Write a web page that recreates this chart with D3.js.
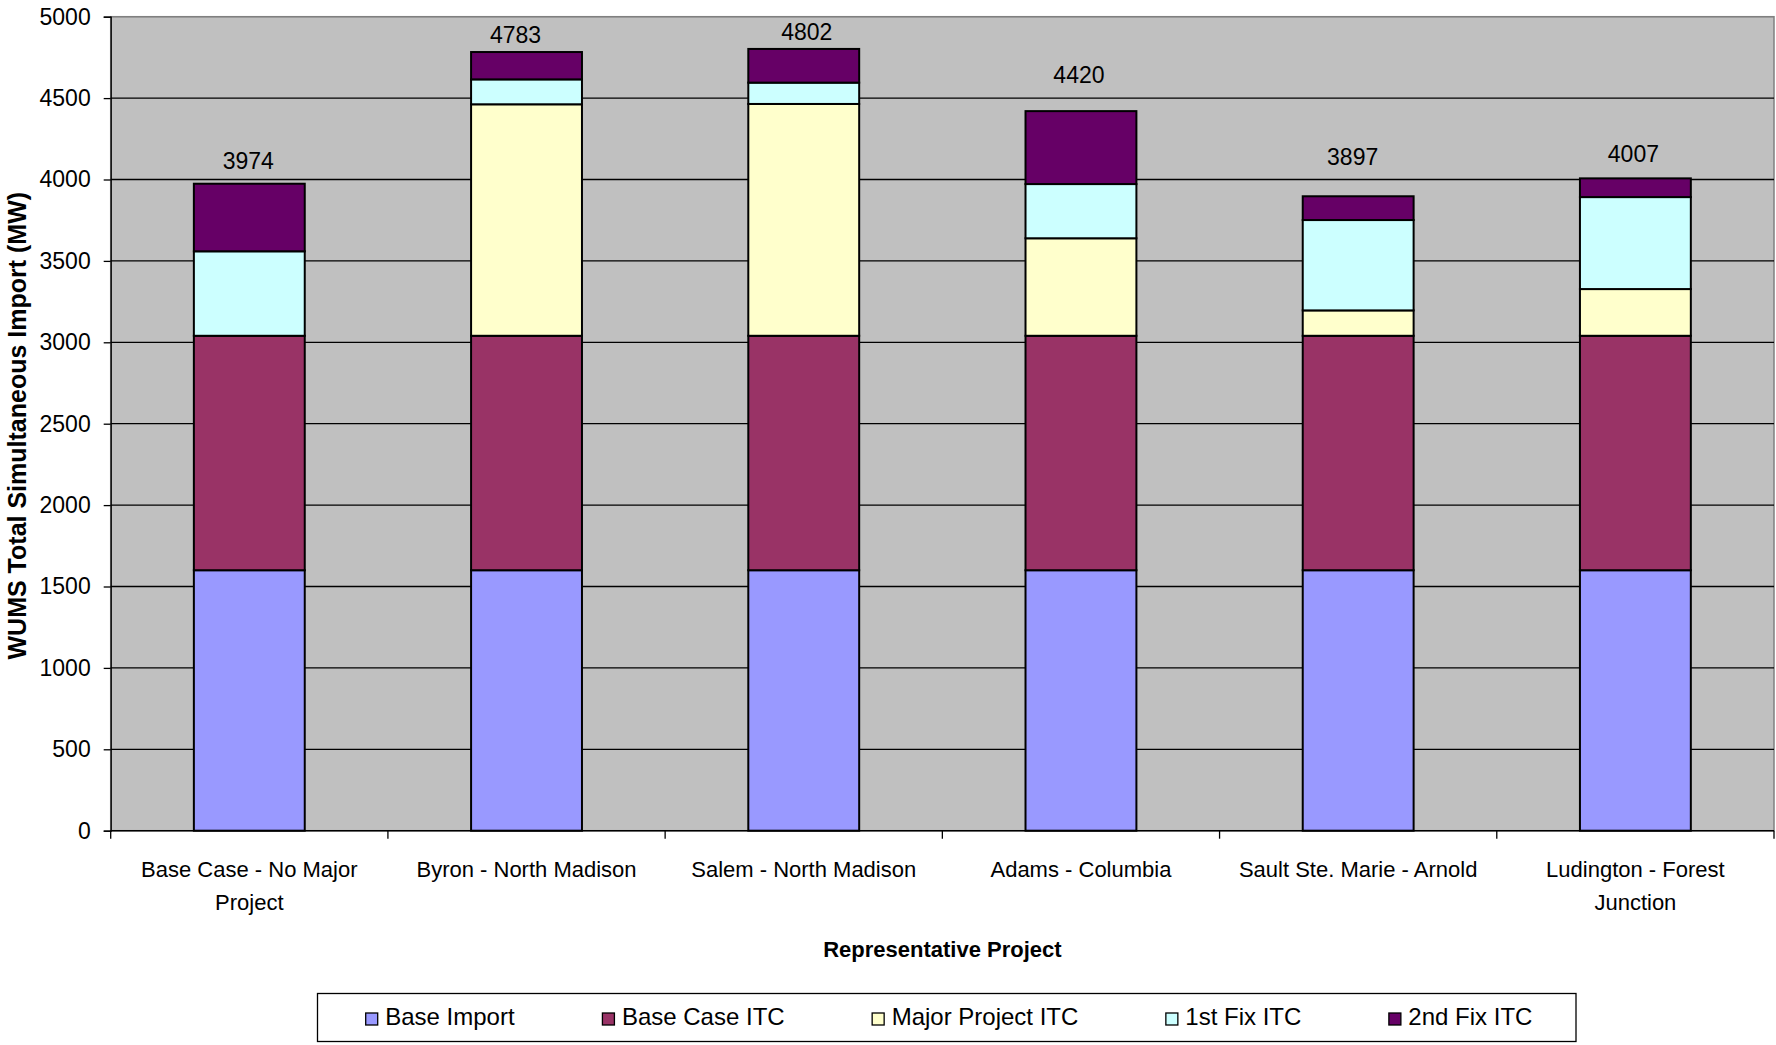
<!DOCTYPE html>
<html>
<head>
<meta charset="utf-8">
<script src="https://cdn.jsdelivr.net/npm/d3@7/dist/d3.min.js"></script>
<style>
  html, body { margin: 0; padding: 0; background: #ffffff; }
  svg { display: block; }
  text { font-family: "Liberation Sans", Arial, sans-serif; fill: #000; }
</style>
</head>
<body>
<svg id="chart" width="1776" height="1045"></svg>
<script>
// ---- Data ----
const categories = [
  "Base Case - No Major Project",
  "Byron - North Madison",
  "Salem - North Madison",
  "Adams - Columbia",
  "Sault Ste. Marie - Arnold",
  "Ludington - Forest Junction"
];
const categoryLines = [
  ["Base Case - No Major", "Project"],
  ["Byron - North Madison"],
  ["Salem - North Madison"],
  ["Adams - Columbia"],
  ["Sault Ste. Marie - Arnold"],
  ["Ludington - Forest", "Junction"]
];
const seriesNames = ["Base Import", "Base Case ITC", "Major Project ITC", "1st Fix ITC", "2nd Fix ITC"];
const baseImport      = [1600, 1600, 1600, 1600, 1600, 1600];
const baseCaseITC     = [1440, 1440, 1440, 1440, 1440, 1440];
const majorProjectITC = [0, 1422, 1424, 599, 156, 287];
const firstFixITC     = [519, 153, 131, 333, 555, 565];
const secondFixITC    = [415, 168, 207, 448, 146, 115];
const totals          = [3974, 4783, 4802, 4420, 3897, 4007];
const yTicks = [0, 500, 1000, 1500, 2000, 2500, 3000, 3500, 4000, 4500, 5000];
const seriesColors = ["#9999FF", "#993366", "#FFFFCC", "#CCFFFF", "#660066"];

// ---- Layout ----
const svg = d3.select("#chart");
const plot = { left: 110.7, right: 1774, top: 16.7, bottom: 830.7 };
// manual placement of total labels (pixel offsets from bar top / bar centre), as in the original
const labelDy = [-14.4, -9.3, -8.9, -27.8, -31.6, -16.7];
const labelDx = [-1, -11, 3, -2, -5.5, -2];

const x = d3.scaleBand().domain(categories).range([plot.left, plot.right])
  .paddingInner(0.6).paddingOuter(0.3);
const y = d3.scaleLinear().domain([0, 5000]).range([plot.bottom, plot.top]);

// plot background
svg.append("rect")
  .attr("x", plot.left).attr("y", plot.top)
  .attr("width", plot.right - plot.left).attr("height", plot.bottom - plot.top)
  .attr("fill", "#C0C0C0").attr("stroke", "#808080").attr("stroke-width", 1.5);

// gridlines
svg.append("g").selectAll("line").data(yTicks.filter(d => d > 0)).join("line")
  .attr("x1", plot.left).attr("x2", plot.right)
  .attr("y1", d => y(d)).attr("y2", d => y(d))
  .attr("stroke", d => d === 5000 ? "#808080" : "#000").attr("stroke-width", 1.3);

// stacked data
const rows = categories.map((c, i) => ({
  cat: c,
  "Base Import": baseImport[i],
  "Base Case ITC": baseCaseITC[i],
  "Major Project ITC": majorProjectITC[i],
  "1st Fix ITC": firstFixITC[i],
  "2nd Fix ITC": secondFixITC[i]
}));
const stack = d3.stack().keys(seriesNames)(rows);

svg.append("g").selectAll("g").data(stack).join("g")
  .attr("fill", (d, i) => seriesColors[i])
  .selectAll("rect").data(d => d.filter(s => s[1] - s[0] > 0)).join("rect")
  .attr("x", d => x(d.data.cat))
  .attr("width", x.bandwidth())
  .attr("y", d => y(d[1]))
  .attr("height", d => y(d[0]) - y(d[1]))
  .attr("stroke", "#000").attr("stroke-width", 2);

// total labels
svg.append("g").selectAll("text").data(categories).join("text")
  .attr("x", (d, i) => x(d) + x.bandwidth() / 2 + labelDx[i])
  .attr("y", (d, i) => y(totals[i]) + labelDy[i])
  .attr("text-anchor", "middle")
  .attr("font-size", 23)
  .text((d, i) => totals[i]);

// y axis
const yAxis = d3.axisLeft(y).tickValues(yTicks).tickSize(7).tickPadding(13).tickFormat(d3.format("d"));
const yg = svg.append("g").attr("transform", `translate(${plot.left},0)`).call(yAxis);
yg.select(".domain").attr("stroke", "#000").attr("stroke-width", 1.3);
yg.selectAll(".tick line").attr("stroke", "#000").attr("stroke-width", 1.3);
yg.selectAll(".tick text").attr("font-size", 23).attr("font-family", "Liberation Sans, Arial, sans-serif").attr("fill", "#000");

// x axis line + ticks at category boundaries
svg.append("line").attr("x1", plot.left).attr("x2", plot.right)
  .attr("y1", plot.bottom).attr("y2", plot.bottom).attr("stroke", "#000").attr("stroke-width", 1.5);
const step = x.step();
const boundaries = d3.range(categories.length + 1).map(i => plot.left + i * step);
svg.append("g").selectAll("line").data(boundaries).join("line")
  .attr("x1", d => d).attr("x2", d => d)
  .attr("y1", plot.bottom).attr("y2", plot.bottom + 8)
  .attr("stroke", "#000").attr("stroke-width", 1.3);

// x category labels
const xl = svg.append("g").selectAll("text").data(categories).join("text")
  .attr("text-anchor", "middle")
  .attr("font-size", 22)
  .attr("x", d => x(d) + x.bandwidth() / 2)
  .attr("y", 877);
xl.each(function(d, i) {
  const t = d3.select(this);
  categoryLines[i].forEach((ln, j) => {
    t.append("tspan").attr("x", x(d) + x.bandwidth() / 2).attr("dy", j === 0 ? 0 : 33).text(ln);
  });
});

// axis titles
svg.append("text")
  .attr("x", (plot.left + plot.right) / 2).attr("y", 956.5)
  .attr("text-anchor", "middle").attr("font-size", 22).attr("font-weight", "bold")
  .text("Representative Project");
svg.append("text")
  .attr("transform", `translate(25.5,${(plot.top + plot.bottom) / 2 + 2}) rotate(-90)`)
  .attr("text-anchor", "middle").attr("font-size", 25).attr("font-weight", "bold")
  .text("WUMS Total Simultaneous Import (MW)");

// legend
const legend = { left: 317.5, right: 1576, top: 993.5, bottom: 1041.5 };
svg.append("rect")
  .attr("x", legend.left).attr("y", legend.top)
  .attr("width", legend.right - legend.left).attr("height", legend.bottom - legend.top)
  .attr("fill", "#fff").attr("stroke", "#000").attr("stroke-width", 1.3);

const lg = svg.append("g");
const items = lg.selectAll("g").data(seriesNames).join("g");
items.append("rect").attr("width", 12).attr("height", 12).attr("y", -12)
  .attr("fill", (d, i) => seriesColors[i]).attr("stroke", "#000").attr("stroke-width", 1.3);
items.append("text").attr("x", 19.5).attr("y", 0).attr("font-size", 24).text(d => d);
// measure and distribute
const widths = [];
items.each(function() { widths.push(this.getBBox().width); });
const gap = 87.5;
let cx = 365.7;
items.attr("transform", (d, i) => {
  const t = `translate(${cx},1025)`;
  cx += widths[i] + gap;
  return t;
});
</script>
</body>
</html>
